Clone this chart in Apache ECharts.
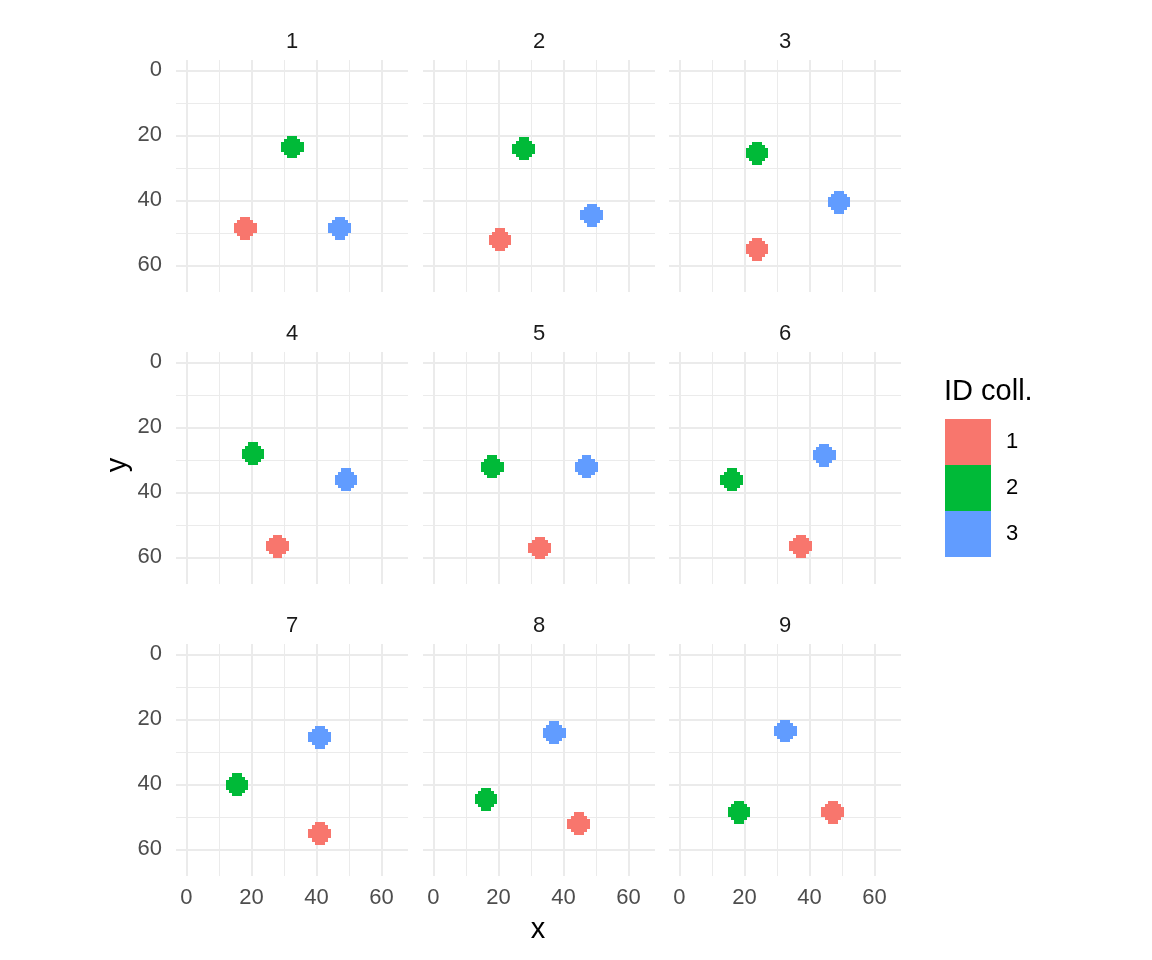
<!DOCTYPE html>
<html>
<head>
<meta charset="utf-8">
<script src="https://cdn.jsdelivr.net/npm/echarts@6/dist/echarts.min.js"></script>
<style>
html,body{margin:0;padding:0;background:#fff;}
#chart{width:1152px;height:960px;}
</style>
</head>
<body>
<div id="chart"></div>
<script>
// ---- data ----
const panelNames = ['1','2','3','4','5','6','7','8','9'];
const idNames = ['1','2','3'];
const id1X = [18.1, 20.5, 23.9, 28.0, 32.7, 37.3, 41.0, 44.7, 47.2];
const id1Y = [48.6, 52.1, 55.0, 56.6, 57.1, 56.6, 55.1, 52.1, 48.6];
const id2X = [32.6, 27.8, 23.9, 20.5, 18.1, 16.1, 15.6, 16.2, 18.3];
const id2Y = [23.6, 24.1, 25.5, 28.1, 32.1, 36.1, 40.1, 44.6, 48.6];
const id3X = [47.2, 48.7, 49.1, 49.1, 47.1, 44.6, 41.0, 37.2, 32.6];
const id3Y = [48.6, 44.6, 40.6, 36.1, 32.1, 28.6, 25.5, 24.1, 23.6];
const majorTicks = [0, 20, 40, 60];
const minorTicks = [10, 30, 50];
const axisMin = -3.2;
const axisMax = 68.18;

const idColors = ['#F8766D', '#00BA38', '#619CFF'];
const idX = [id1X, id2X, id3X];
const idY = [id1Y, id2Y, id3Y];

const FONT = '"Liberation Sans", Arial, Helvetica, sans-serif';
const SMALL = 22;
const BIG = 29;
const colLeft = [176, 423, 669];
const rowTop = [60, 352, 644];
const PANEL = 232;

function renderBlob(params, api) {
  const cx = api.value(0), cy = api.value(1);
  const color = api.visual('color');
  const children = [];
  for (let dy = -3; dy <= 3; dy++) {
    const hw = Math.floor(Math.sqrt(12.25 - dy * dy));
    const a = api.coord([cx - hw - 0.5, cy + dy - 0.5]);
    const b = api.coord([cx + hw + 0.5, cy + dy + 0.5]);
    const x0 = Math.round(Math.min(a[0], b[0])), x1 = Math.round(Math.max(a[0], b[0]));
    const y0 = Math.round(Math.min(a[1], b[1])), y1 = Math.round(Math.max(a[1], b[1]));
    children.push({type: 'rect', shape: {x: x0, y: y0, width: x1 - x0, height: y1 - y0}, style: {fill: color, stroke: null}});
  }
  return {type: 'group', children: children};
}

const grids = [], xAxes = [], yAxes = [], series = [], titles = [];
panelNames.forEach((name, p) => {
  const col = p % 3, row = Math.floor(p / 3);
  grids.push({left: colLeft[col], top: rowTop[row], width: PANEL, height: PANEL, containLabel: false});
  titles.push({
    text: name, left: colLeft[col] + PANEL / 2, top: rowTop[row] - 29, textAlign: 'center', padding: 0,
    textStyle: {fontFamily: FONT, fontSize: SMALL, fontWeight: 'normal', color: '#1A1A1A'}
  });
  const baseAxis = (vals, major, showLabel, isX) => ({
    type: 'value', gridIndex: p, min: axisMin, max: axisMax,
    inverse: !isX,
    axisLine: {show: false},
    axisTick: {show: false, customValues: vals},
    axisLabel: {show: showLabel, customValues: vals, color: '#4D4D4D', fontSize: SMALL, fontFamily: FONT, margin: isX ? 11 : 14},
    splitLine: {show: true, lineStyle: {color: '#EBEBEB', width: major ? 2 : 1}},
    z: 0
  });
  xAxes.push(baseAxis(majorTicks, true, row === 2, true));
  xAxes.push(baseAxis(minorTicks, false, false, true));
  yAxes.push(baseAxis(majorTicks, true, col === 0, false));
  yAxes.push(baseAxis(minorTicks, false, false, false));
  idNames.forEach((id, k) => {
    series.push({
      type: 'custom', name: id, xAxisIndex: 2 * p, yAxisIndex: 2 * p,
      itemStyle: {color: idColors[k]},
      data: [[idX[k][p], idY[k][p]]],
      renderItem: renderBlob, silent: true, animation: false, z: 5
    });
  });
});

titles.push({text: 'ID coll.', left: 944, top: 377, padding: 0, textStyle: {fontFamily: FONT, fontSize: BIG, fontWeight: 'normal', color: '#000'}});

const chart = echarts.init(document.getElementById('chart'), null, {renderer: 'canvas'});
chart.setOption({
  backgroundColor: '#fff',
  animation: false,
  title: titles,
  grid: grids,
  xAxis: xAxes,
  yAxis: yAxes,
  legend: {
    data: idNames, orient: 'vertical', left: 945, top: 419, padding: 0,
    itemWidth: 46, itemHeight: 46, itemGap: 0, icon: 'rect', selectedMode: false,
    textStyle: {fontFamily: FONT, fontSize: SMALL, color: '#000', padding: [0, 0, 0, 10]}
  },
  graphic: [
    {type: 'text', style: {text: 'x', font: BIG + 'px ' + FONT, fill: '#000', textAlign: 'center', textVerticalAlign: 'middle'}, position: [538, 930]},
    {type: 'text', style: {text: 'y', font: BIG + 'px ' + FONT, fill: '#000', textAlign: 'center', textVerticalAlign: 'middle'}, position: [118, 465], rotation: Math.PI / 2}
  ],
  series: series
});
</script>
</body>
</html>
